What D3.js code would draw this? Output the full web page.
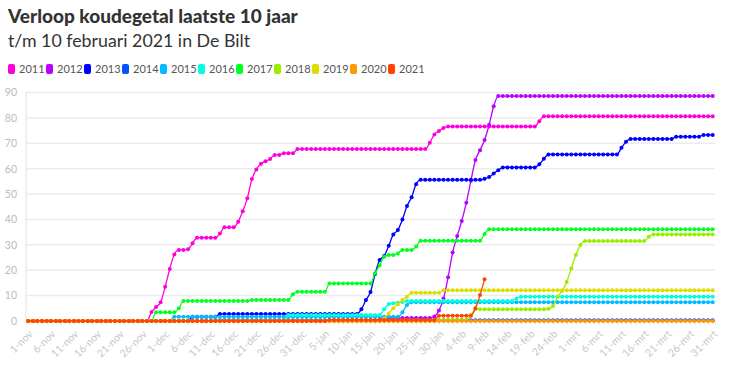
<!DOCTYPE html>
<html>
<head>
<meta charset="utf-8">
<script src="https://cdn.jsdelivr.net/npm/d3@7"></script>
<style>
  body { margin: 0; background: #fff; }
  svg { display: block; font-family: Lato, "Open Sans", sans-serif; }
</style>
</head>
<body>
<svg id="chart"></svg>
<script>
// dagen 1-nov t/m 31-mrt (151 dagen)
let months = [['nov', 30], ['dec', 31], ['jan', 31], ['feb', 28], ['mrt', 31]]
let days = []
months.forEach(m => { for (let d = 1; d <= m[1]; d++) days.push(d + '-' + m[0]) })

let years = ['2011', '2012', '2013', '2014', '2015', '2016', '2017', '2018', '2019', '2020', '2021']
let colors = ['#ff00dd', '#bb00ff', '#0000ff', '#0055ff', '#00bbff', '#00ffdd', '#00ff22', '#99ee00', '#dddd00', '#ff9900', '#ff4400']
let yTicks = [0, 10, 20, 30, 40, 50, 60, 70, 80, 90]

let v2011 = [0,0,0,0,0,0,0,0,0,0, 0,0,0,0,0,0,0,0,0,0, 0,0,0,0,0,0,0,3.5,5.5,7.4,
  13.5,20.5,26.2,28,28,28.3,30.6,32.8,32.8,32.8, 32.8,32.8,34.5,36.9,36.9,36.9,39.1,43.2,48.3,55.9,
  59.7,61.9,62.9,63.8,65.4,65.4,66.1,66.1,66.1,67.7, 67.7,67.7,67.7,67.7,67.7,67.7,67.7,67.7,67.7,67.7,
  67.7,67.7,67.7,67.7,67.7,67.7,67.7,67.7,67.7,67.7, 67.7,67.7,67.7,67.7,67.7,67.7,67.7,67.7,70.2,73.5,
  74.8,76,76.6,76.6,76.6,76.6,76.6,76.6,76.6,76.6, 76.6,76.6,76.6,76.6,76.6,76.6,76.6,76.6,76.6,76.6,
  76.6,76.6,78.7,80.6,80.6,80.6,80.6,80.6,80.6,80.6, 80.6,80.6,80.6,80.6,80.6,80.6,80.6,80.6,80.6,80.6,
  80.6,80.6,80.6,80.6,80.6,80.6,80.6,80.6,80.6,80.6, 80.6,80.6,80.6,80.6,80.6,80.6,80.6,80.6,80.6,80.6, 80.6]
let v2012 = [0,0,0,0,0,0,0,0,0,0, 0,0,0,0,0,0,0,0,0,0, 0,0,0,0,0,0,0,0,0,0,
  0,0,0,0,0,0,0,0,0,0, 0,0,0,0,0,0,0,0,0,0, 0,0,0,0,0,0,0,0,0,0,
  0,0,0,0,0,0,0,0,0,0, 0,0,0,0,0,0,0,0.5,1.2,1.2, 1.2,1.2,1.2,1.2,1.2,1.2,1.2,1.2,1.2,1.8,
  4.1,8.9,17.2,27,33.5,39.4,46.6,55.2,63.4,67.3, 71.3,77.3,84.6,88.6,88.6,88.6,88.6,88.6,88.6,88.6,
  88.6,88.6,88.6,88.6,88.6,88.6,88.6,88.6,88.6,88.6, 88.6,88.6,88.6,88.6,88.6,88.6,88.6,88.6,88.6,88.6,
  88.6,88.6,88.6,88.6,88.6,88.6,88.6,88.6,88.6,88.6, 88.6,88.6,88.6,88.6,88.6,88.6,88.6,88.6,88.6,88.6, 88.6]
let v2013 = [0,0,0,0,0,0,0,0,0,0, 0,0,0,0,0,0,0,0,0,0, 0,0,0,0,0,0,0,0,0,0,
  0,0,0,0,0,0,1.7,1.7,1.7,1.7, 1.7,1.7,2.8,2.8,2.8,2.8,2.8,2.8,2.8,2.8, 2.8,2.8,2.8,2.8,2.8,2.8,2.8,2.8,2.8,2.8,
  2.8,2.8,2.8,2.8,2.8,2.8,2.8,2.8,2.8,2.8, 2.8,2.8,2.8,4.6,8.3,11.4,18.5,24,25.6,29.6,
  34.1,35.8,40,45.3,48.7,53.9,55.6,55.6,55.6,55.6, 55.6,55.6,55.6,55.6,55.6,55.6,55.6,55.6,55.6,55.6,
  56,56.7,58.1,59.4,60.5,60.5,60.5,60.5,60.5,60.5, 60.5,60.5,61.7,63.9,65.6,65.6,65.6,65.6,65.6,65.6,
  65.6,65.6,65.6,65.6,65.6,65.6,65.6,65.6,65.6,65.6, 68.2,70.6,71.7,71.7,71.7,71.7,71.7,71.7,71.7,71.7,
  71.7,71.7,72.6,72.6,72.6,72.6,72.6,72.6,73.3,73.3, 73.3]
let v2014 = [0,0,0,0,0,0,0,0,0,0, 0,0,0,0,0,0,0,0,0,0, 0,0,0,0,0,0,0,0,0,0,
  0,0,0,0,0,0,0,0,0,0, 0,0.3,0.3,0.3,0.3,0.3,0.3,0.3,0.3,0.3, 0.3,0.3,0.3,0.3,0.3,0.3,0.3,0.3,0.3,0.3,
  0.3,0.3,0.3,0.3,0.3,0.3,0.3,0.3,0.3,0.3, 0.3,0.3,0.3,0.3,0.3,0.3,0.3,0.3,0.3,0.3, 0.3,0.3,0.3,0.3,0.3,0.3,0.3,0.3,0.3,0.3,
  0.3,0.3,0.3,0.3,0.3,0.3,0.3,0.3,0.3,0.3, 0.3,0.3,0.3,0.3,0.3,0.3,0.3,0.3,0.3,0.3, 0.3,0.3,0.3,0.3,0.3,0.3,0.3,0.3,0.3,0.3,
  0.3,0.3,0.3,0.3,0.3,0.3,0.3,0.3,0.3,0.3, 0.3,0.3,0.3,0.3,0.3,0.3,0.3,0.3,0.3,0.3, 0.3,0.3,0.3,0.3,0.3,0.3,0.3,0.3,0.3,0.3, 0.3]
let v2015 = [0,0,0,0,0,0,0,0,0,0, 0,0,0,0,0,0,0,0,0,0, 0,0,0,0,0,0,0,0,0,0,
  0,0,1.7,1.7,1.7,1.7,1.7,1.7,1.7,1.7, 1.7,1.7,1.7,1.7,1.7,1.7,1.7,1.7,1.7,1.7, 1.7,1.7,1.7,1.7,1.7,1.7,1.7,1.7,1.7,1.7,
  1.7,1.7,1.7,1.7,1.7,1.7,1.7,1.7,1.7,1.7, 1.7,1.7,1.7,1.7,1.7,1.7,1.7,1.7,1.7,1.7, 1.7,1.7,3.4,6.3,7.4,7.4,7.4,7.4,7.4,7.4,
  7.4,7.4,7.4,7.4,7.4,7.4,7.4,7.4,7.4,7.4, 7.4,7.4,7.4,7.4,7.4,7.4,7.4,7.4,7.4,7.4, 7.4,7.4,7.4,7.4,7.4,7.4,7.4,7.4,7.4,7.4,
  7.4,7.4,7.4,7.4,7.4,7.4,7.4,7.4,7.4,7.4, 7.4,7.4,7.4,7.4,7.4,7.4,7.4,7.4,7.4,7.4, 7.4,7.4,7.4,7.4,7.4,7.4,7.4,7.4,7.4,7.4, 7.4]
let v2016 = [0,0,0,0,0,0,0,0,0,0, 0,0,0,0,0,0,0,0,0,0, 0,0,0,0,0,0,0,0,0,0,
  0,0,0,0,0,0,0,0,0,0, 0,0,0,0,0,0,0,0,0,0, 0,0,0,0,0,0,0,2.4,2.4,2.4,
  2.4,2.4,2.4,2.4,2.4,2.4,2.4,2.4,2.4,2.4, 2.4,2.4,2.4,2.4,2.4,2.4,2.4,2.4,4.6,6.7, 7,7.2,7.5,7.9,7.9,7.9,7.9,7.9,7.9,7.9,
  7.9,7.9,7.9,7.9,7.9,7.9,7.9,7.9,7.9,7.9, 7.9,7.9,7.9,7.9,7.9,7.9,7.9,8.9,9.6,9.6, 9.6,9.6,9.6,9.6,9.6,9.6,9.6,9.6,9.6,9.6,
  9.6,9.6,9.6,9.6,9.6,9.6,9.6,9.6,9.6,9.6, 9.6,9.6,9.6,9.6,9.6,9.6,9.6,9.6,9.6,9.6, 9.6,9.6,9.6,9.6,9.6,9.6,9.6,9.6,9.6,9.6, 9.6]
let v2017 = [0,0,0,0,0,0,0,0,0,0, 0,0,0,0,0,0,0,0,0,0, 0,0,0,0,0,0,0,0,3.4,3.4,
  3.4,3.4,3.4,5,7.9,7.9,7.9,7.9,7.9,7.9, 7.9,7.9,7.9,7.9,7.9,7.9,7.9,7.9,7.9,8.3, 8.3,8.3,8.3,8.3,8.3,8.3,8.3,8.3,10.5,11.5,
  11.5,11.5,11.5,11.5,11.5,11.5,14.8,14.8,14.8,14.8, 14.8,14.8,14.8,14.8,14.8,14.8,18.8,22,25.3,26,
  26,26.6,28,28,28,29.3,31.6,31.6,31.6,31.6, 31.6,31.6,31.6,31.6,31.6,31.6,31.6,31.6,31.6,31.6,
  34.3,36.1,36.1,36.1,36.1,36.1,36.1,36.1,36.1,36.1, 36.1,36.1,36.1,36.1,36.1,36.1,36.1,36.1,36.1,36.1,
  36.1,36.1,36.1,36.1,36.1,36.1,36.1,36.1,36.1,36.1, 36.1,36.1,36.1,36.1,36.1,36.1,36.1,36.1,36.1,36.1,
  36.1,36.1,36.1,36.1,36.1,36.1,36.1,36.1,36.1,36.1, 36.1]
let v2018 = [0,0,0,0,0,0,0,0,0,0, 0,0,0,0,0,0,0,0,0,0, 0,0,0,0,0,0,0,0,0,0,
  0,0,0,0,0,0,0,0,0,0, 0,0,0,0,0,0,0,0,0,0, 0,0,0,0,0,0,0,0,0,0,
  0,0,0,0,0,0,0,0,0,0, 0,0,0,0,0,0,0,0,0,0, 0,0,0,0,0,0,0,0,0,0,
  0.4,0.4,0.4,0.4,0.4,0.4,0.4,2.4,4.6,4.6, 4.6,4.6,4.6,4.6,4.6,4.6,4.6,4.6,4.6,4.6,
  4.6,4.6,4.6,4.6,4.8,5.9,9.6,11.9,15.4,20.7, 26,29.9,31.5,31.5,31.5,31.5,31.5,31.5,31.5,31.5,
  31.5,31.5,31.5,31.5,31.5,31.5,33.2,34.1,34.1,34.1, 34.1,34.1,34.1,34.1,34.1,34.1,34.1,34.1,34.1,34.1, 34.1]
let v2019 = [0,0,0,0,0,0,0,0,0,0, 0,0,0,0,0,0,0,0,0,0, 0,0,0,0,0,0,0,0,0,0,
  0,0,0,0,0,0,0,0,0,0, 0,0,0,0,0,0,0,0,0,0, 0,0,0,0,0,0,0,0,0,0,
  0,0,0,0,0,0,0,0,0,0, 0,0,0,0,0,0,0,0,1,3, 5,6.6,8.3,9.6,11.1,11.1,11.1,11.1,11.1,11.1,
  11.1,12.1,12.1,12.1,12.1,12.1,12.1,12.1,12.1,12.1, 12.1,12.1,12.1,12.1,12.1,12.1,12.1,12.1,12.1,12.1,
  12.1,12.1,12.1,12.1,12.1,12.1,12.1,12.1,12.1,12.1, 12.1,12.1,12.1,12.1,12.1,12.1,12.1,12.1,12.1,12.1,
  12.1,12.1,12.1,12.1,12.1,12.1,12.1,12.1,12.1,12.1, 12.1,12.1,12.1,12.1,12.1,12.1,12.1,12.1,12.1,12.1, 12.1]
let v2020 = [0,0,0,0,0,0,0,0,0,0, 0,0,0,0,0,0,0,0,0,0, 0,0,0,0,0,0,0,0,0,0,
  0,0,0,0,0,0,0,0,0,0, 0,0,0,0,0,0,0,0,0,0, 0,0,0,0,0,0,0,0,0,0,
  0,0,0,0,0,0,0,0,0,0, 0,0,0,0,0,0,0,0,0,0, 0,0,0,0,0,0,0,0,0,0,
  0,0,0,0,0,0,0,0,0,0, 0,0,0,0,0,0,0,0,0,0, 0,0,0,0,0,0,0,0,0,0,
  0,0,0,0,0,0,0,0,0,0, 0,0,0,0,0,0,0,0,0,0, 0,0,0,0,0,0,0,0,0,0, 0]
let v2021 = [0,0,0,0,0,0,0,0,0,0, 0,0,0,0,0,0,0,0,0,0, 0,0,0,0,0,0,0,0,0,0,
  0,0,0,0,0,0,0,0,0,0, 0,0,0,0,0,0,0,0,0,0, 0,0,0,0,0,0,0,0,0,0,
  0,0,0,0,0,0,0.4,0.4,0.4,0.4, 0.4,0.4,0.4,0.4,0.4,0.4,0.4,0.4,0.4,0.4, 0.4,0.4,0.4,0.4,0.4,0.4,0.4,0.4,0.4,0.4,
  2.1,2.1,2.1,2.1,2.1,2.1,2.1,2.1,5,10.2, 16.4]

let series = [v2011, v2012, v2013, v2014, v2015, v2016, v2017, v2018, v2019, v2020, v2021]

let width = 732
let height = 367
let plotLeft = 26
let plotRight = 715
let plotTop = 92.5
let plotBottom = 321

let svg = d3.select('#chart').attr('width', width).attr('height', height)

let xScale = d3.scalePoint().domain(days).range([plotLeft, plotRight]).padding(0.5)
let yScale = d3.scaleLinear().domain([0, 90]).range([plotBottom, plotTop])

// titel
svg.append('text').attr('x', 8).attr('y', 23)
  .attr('font-size', 19).attr('font-weight', 900).attr('fill', '#333')
  .text('Verloop koudegetal laatste 10 jaar')
svg.append('text').attr('x', 8).attr('y', 47)
  .attr('font-size', 17.8).attr('fill', '#333')
  .text('t/m 10 februari 2021 in De Bilt')

// legenda
let legend = svg.append('g')
years.forEach((y, i) => {
  let g = legend.append('g').attr('transform', 'translate(' + (8 + i * 38) + ',64)')
  g.append('rect').attr('width', 7).attr('height', 10).attr('rx', 2).attr('fill', colors[i])
  g.append('text').attr('x', 11).attr('y', 9).attr('font-size', 11).attr('fill', '#555').text(y)
})

// rasterlijnen
svg.append('g').selectAll('line')
  .data(yTicks.filter(t => t > 0))
  .enter().append('line')
  .attr('x1', plotLeft).attr('x2', plotRight)
  .attr('y1', d => yScale(d)).attr('y2', d => yScale(d))
  .attr('stroke', '#ececec').attr('stroke-width', 1.5)

svg.append('line').attr('x1', plotLeft).attr('x2', plotLeft).attr('y1', plotTop).attr('y2', plotBottom)
  .attr('stroke', '#ececec').attr('stroke-width', 1.5)

// assen
let yAxis = d3.axisLeft(yScale).tickValues(yTicks).tickSize(0).tickPadding(9)
let gy = svg.append('g').attr('transform', 'translate(' + plotLeft + ',0)').call(yAxis)
gy.select('.domain').remove()
gy.selectAll('text').attr('fill', '#bbb').attr('font-size', 10.5).attr('font-family', 'Lato, sans-serif')

let xAxis = d3.axisBottom(xScale).tickSize(4).tickFormat((d, i) => i % 5 === 0 ? d : '')
let gx = svg.append('g').attr('transform', 'translate(0,' + plotBottom + ')').call(xAxis)
gx.select('.domain').attr('stroke', '#ececec')
gx.selectAll('.tick line').attr('stroke', '#eaeaea')
gx.selectAll('text')
  .attr('fill', '#c8c8c8').attr('font-size', 10.5).attr('font-family', 'Lato, sans-serif')
  .attr('text-anchor', 'end')
  .attr('x', 0).attr('y', 0).attr('dy', '0.35em')
  .attr('transform', 'translate(2,11) rotate(-45)')

// lijnen
let line = d3.line()
  .x((d, i) => xScale(days[i]))
  .y(d => yScale(d))
  .curve(d3.curveMonotoneX)

series.forEach((vals, s) => {
  let g = svg.append('g')
  g.append('path').datum(vals)
    .attr('d', line)
    .attr('fill', 'none')
    .attr('stroke', colors[s])
    .attr('stroke-width', 1.3)
  g.selectAll('circle')
    .data(vals)
    .enter().append('circle')
    .attr('cx', (d, i) => xScale(days[i]))
    .attr('cy', d => yScale(d))
    .attr('r', 2)
    .attr('fill', colors[s])
})
</script>
</body>
</html>
